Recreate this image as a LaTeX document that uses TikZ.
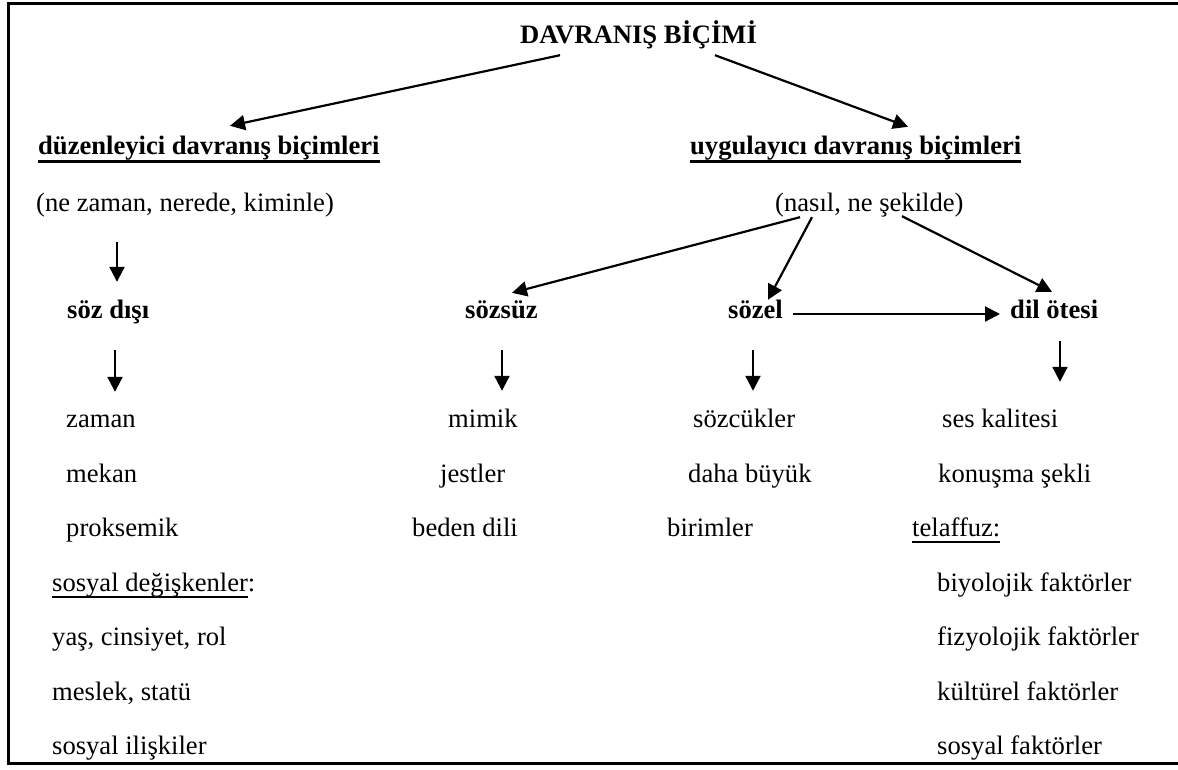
\documentclass[tikz,border=0pt]{standalone}
\usepackage{fontspec}
\setmainfont{Liberation Serif}
\usetikzlibrary{arrows.meta}

\newcommand{\ulthick}[1]{\setbox0=\hbox{#1}\rlap{\rule[-8.5pt]{\wd0}{3pt}}\box0}
\newcommand{\ulthin}[1]{\setbox0=\hbox{#1}\rlap{\rule[-7pt]{\wd0}{2pt}}\box0}

\begin{document}
\begin{tikzpicture}[
		x=1pt, y=-1pt,
		every node/.style={inner sep=0pt, text height=20pt, text depth=6pt, anchor=base west,
			font=\fontsize{26.6pt}{32pt}\selectfont},
		head/.style={font=\fontsize{26.6pt}{32pt}\selectfont\bfseries},
		item/.style={},
		arr/.style={line width=2.2pt, -{Triangle[length=15pt,width=15pt]}},
		frame/.style={line width=3pt}
		]

	\useasboundingbox (0, 0) rectangle (1178, 769);

	% Frame (open on the right)
	\draw[frame] (1178, 3) -- (8, 3) -- (8, 763) -- (1178, 763);

	% Top
	\node[head] (title) at (520, 43) {DAVRANIŞ BİÇİMİ};

	% Two branches
	\node[head] (reg) at (38, 154) {\ulthick{düzenleyici davranış biçimleri}};
	\node[head] (app) at (690, 154) {\ulthick{uygulayıcı davranış biçimleri}};
	\node[item] (regq) at (36, 211) {(ne zaman, nerede, kiminle)};
	\node[item] (appq) at (775, 211) {(nasıl, ne şekilde)};

	% Middle row
	\node[head] (extra) at (67, 318) {söz dışı};
	\node[head] (nonverbal) at (465, 318) {sözsüz};
	\node[head] (verbal) at (728, 318) {sözel};
	\node[head] (para) at (1010, 318) {dil ötesi};

	% Lists
	\foreach \n/\x/\y/\t in {e1/66/427/zaman, e2/66/482/mekan, e3/66/536/proksemik,
		e4/52/591/{\ulthin{sosyal değişkenler}:}, e5/52/645/{yaş, cinsiyet, rol},
		e6/52/700/{meslek, statü}, e7/52/754/sosyal ilişkiler}{
		\node[item] (\n) at (\x, \y) {\t};
	}
	\foreach \n/\x/\y/\t in {n1/448/427/mimik, n2/440/482/jestler, n3/412/536/beden dili,
		v1/693/427/sözcükler, v2/688/482/daha büyük, v3/667/536/birimler}{
		\node[item] (\n) at (\x, \y) {\t};
	}
	\foreach \n/\x/\y/\t in {p1/942/427/ses kalitesi, p2/938/482/konuşma şekli,
		p3/912/536/{\ulthin{telaffuz:}}, p4/937/591/biyolojik faktörler,
		p5/937/645/fizyolojik faktörler, p6/937/700/kültürel faktörler,
		p7/937/754/sosyal faktörler}{
		\node[item] (\n) at (\x, \y) {\t};
	}

	% Arrows
	\draw[arr] ([shift={(40, 6)}]title.south west) -- ([shift={(192, -8)}]reg.north west);
	\draw[arr] ([shift={(195, 6)}]title.south west) -- ([shift={(218, -7)}]app.north west);
	\draw[arr] ([shift={(81, 25)}]regq.south west) -- ([shift={(50, -16)}]extra.north west);
	\draw[arr] ([shift={(48, 26)}]extra.south west) -- ([shift={(49, -15)}]e1.north west);
	\draw[arr] ([shift={(25, 0)}]appq.south west) -- ([shift={(47, -5)}]nonverbal.north west);
	\draw[arr] ([shift={(37, 0)}]appq.south west) -- ([shift={(40, 2)}]verbal.north west);
	\draw[arr] ([shift={(127, -1)}]appq.south west) -- ([shift={(42, -6)}]para.north west);
	\draw[arr] ([shift={(10, -4)}]verbal.base east) -- ([shift={(-10, -4)}]para.base west);
	\draw[arr] ([shift={(37, 26)}]nonverbal.south west) -- ([shift={(54, -16)}]n1.north west);
	\draw[arr] ([shift={(25, 26)}]verbal.south west) -- ([shift={(60, -16)}]v1.north west);
	\draw[arr] ([shift={(50, 17)}]para.south west) -- ([shift={(118, -25)}]p1.north west);

\end{tikzpicture}
\end{document}
